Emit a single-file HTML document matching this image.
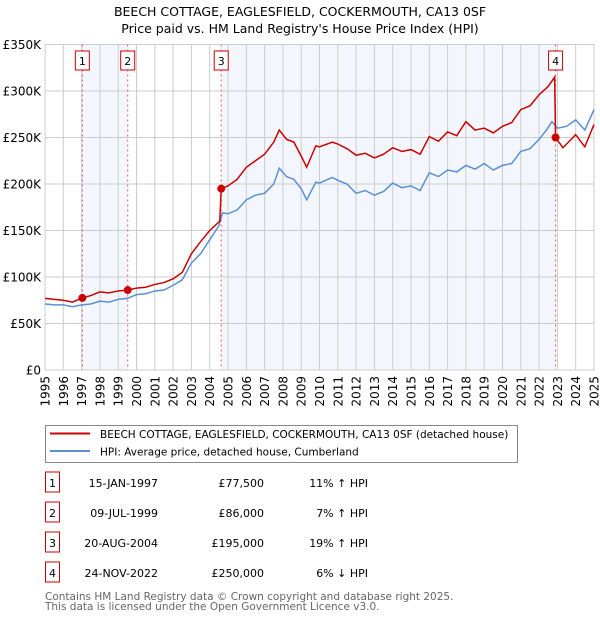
<!DOCTYPE html>
<html><head><meta charset="utf-8"><style>
body{margin:0;background:#fff;font-family:"DejaVu Sans","Liberation Sans",sans-serif;}
svg text{font-family:"DejaVu Sans","Liberation Sans",sans-serif;}
</style></head><body>
<svg id="chart" width="600" height="620" xmlns="http://www.w3.org/2000/svg">
<text x="300" y="16" text-anchor="middle" font-size="12.5" fill="#000">BEECH COTTAGE, EAGLESFIELD, COCKERMOUTH, CA13 0SF</text>
<text x="300" y="33" text-anchor="middle" font-size="12.5" fill="#000">Price paid vs. HM Land Registry's House Price Index (HPI)</text>
<g id="plot"></g>
<g>
<rect x="45.5" y="425.5" width="472" height="37" fill="#fff" stroke="#888"/>
<line x1="50" y1="433.5" x2="90" y2="433.5" stroke="#cc0000" stroke-width="2"/>
<text x="100" y="438" font-size="10.5">BEECH COTTAGE, EAGLESFIELD, COCKERMOUTH, CA13 0SF (detached house)</text>
<line x1="50" y1="451" x2="90" y2="451" stroke="#5b8fd4" stroke-width="2"/>
<text x="100" y="455.5" font-size="10.5">HPI: Average price, detached house, Cumberland</text>
</g>
<g id="table"></g>
<text x="45" y="600" font-size="10.5" fill="#666">Contains HM Land Registry data © Crown copyright and database right 2025.</text>
<text x="45" y="610" font-size="10.5" fill="#666">This data is licensed under the Open Government Licence v3.0.</text>
</svg>
<script>
const hpiYears=[1995,1995.5,1996,1996.5,1997,1997.5,1998,1998.5,1999,1999.5,2000,2000.5,2001,2001.5,2002,2002.5,2003,2003.5,2004,2004.5,2004.7,2005,2005.5,2006,2006.5,2007,2007.5,2007.8,2008.2,2008.6,2009,2009.3,2009.8,2010,2010.7,2011,2011.5,2012,2012.5,2013,2013.5,2014,2014.5,2015,2015.5,2016,2016.5,2017,2017.5,2018,2018.5,2019,2019.5,2020,2020.5,2021,2021.5,2022,2022.4,2022.7,2023,2023.5,2024,2024.5,2025];
const hpiValues=[71,70,70,68,70,71,74,73,76,77,81,82,85,86,91,97,115,125,140,155,169,168,172,183,188,190,200,217,208,205,195,183,202,201,207,204,200,190,193,188,192,201,196,198,193,212,208,215,213,220,216,222,215,220,222,235,238,248,258,267,260,262,269,258,280];
const redYears=[1995,1995.5,1996,1996.5,1997.04,1997.5,1998,1998.5,1999,1999.52,2000,2000.5,2001,2001.5,2002,2002.5,2003,2003.5,2004,2004.55,2004.63,2005,2005.5,2006,2006.5,2007,2007.5,2007.8,2008.2,2008.6,2009,2009.3,2009.8,2010,2010.7,2011,2011.5,2012,2012.5,2013,2013.5,2014,2014.5,2015,2015.5,2016,2016.5,2017,2017.5,2018,2018.5,2019,2019.5,2020,2020.5,2021,2021.5,2022,2022.5,2022.85,2022.9,2023.3,2024,2024.5,2025];
const redValues=[77,76,75,73,77.5,80,84,83,85,86,88,89,92,94,98,105,125,138,150,160,195,198,205,218,225,232,245,258,248,245,230,218,241,240,245,243,238,231,233,228,232,239,235,237,232,251,246,256,252,267,258,260,255,262,266,280,284,296,305,315,250,239,253,240,264];
const sales=[{n:"1",t:1997.04,v:77.5,date:"15-JAN-1997",price:"£77,500",hpi:"11% ↑ HPI"},{n:"2",t:1999.52,v:86,date:"09-JUL-1999",price:"£86,000",hpi:"7% ↑ HPI"},{n:"3",t:2004.63,v:195,date:"20-AUG-2004",price:"£195,000",hpi:"19% ↑ HPI"},{n:"4",t:2022.9,v:250,date:"24-NOV-2022",price:"£250,000",hpi:"6% ↓ HPI"}];
const yTicks=[0,50,100,150,200,250,300,350];
const yTickLabels=["£0","£50K","£100K","£150K","£200K","£250K","£300K","£350K"];
const NS="http://www.w3.org/2000/svg";
const L=45,R=594,T=44.5,B=370;
const x=t=>L+(t-1995)/30*(R-L);
const y=v=>B-v/350*(B-T);
const plot=document.getElementById('plot');
function mk(tag,attrs,parent){const e=document.createElementNS(NS,tag);for(const k in attrs)e.setAttribute(k,attrs[k]);(parent||plot).appendChild(e);return e;}
mk('rect',{x:L,y:T,width:R-L,height:B-T,fill:'#fff'});
let s1=mk('rect',{x:x(sales[0].t),y:T,width:x(sales[1].t)-x(sales[0].t),height:B-T,fill:'#eef3fc',opacity:0.7});

let s2=mk('rect',{x:x(sales[2].t),y:T,width:x(sales[3].t)-x(sales[2].t),height:B-T,fill:'#eef3fc',opacity:0.7});

for(let yr=1995;yr<=2025;yr++){
 mk('line',{x1:x(yr),x2:x(yr),y1:T,y2:B,stroke:'#cccccc','stroke-width':1});
 const tx=mk('text',{x:0,y:0,'font-size':12,'text-anchor':'end',transform:`translate(${x(yr)+4.5},${B+6}) rotate(-90)`});
 tx.textContent=yr;
 
 
}
yTicks.forEach((v,i)=>{
 mk('line',{x1:L,x2:R,y1:y(v),y2:y(v),stroke:'#cccccc','stroke-width':1});
 const tx=mk('text',{x:L-4,y:y(v)+4.5,'font-size':12,'text-anchor':'end'});
 tx.textContent=yTickLabels[i];
 
 
});
mk('rect',{x:L,y:T,width:R-L,height:B-T,fill:'none',stroke:'#cccccc'});
sales.forEach(s=>{
 const ln=mk('line',{x1:x(s.t),x2:x(s.t),y1:T,y2:B,stroke:'#ee5555','stroke-width':1,'stroke-dasharray':'2,3'});
 
 
});
const hp=mk('polyline',{points:hpiYears.map((t,i)=>x(t)+','+y(hpiValues[i])).join(' '),fill:'none',stroke:'#5b8fd4','stroke-width':1.5});


const rp=mk('polyline',{points:redYears.map((t,i)=>x(t)+','+y(redValues[i])).join(' '),fill:'none',stroke:'#cc0000','stroke-width':1.5});


sales.forEach(s=>{
 const c=mk('circle',{cx:x(s.t),cy:y(s.v),r:4,fill:'#cc0000'});
 
 
 const bx=x(s.t)-7;
 const g=mk('g',{});
 
 
 mk('rect',{x:bx,y:51,width:14,height:19,fill:'#fff',stroke:'#cc0000'},g);
 const t=mk('text',{x:x(s.t),y:65,'font-size':11,'text-anchor':'middle'},g);t.textContent=s.n;
});
const tb=document.getElementById('table');
sales.forEach((s,i)=>{
 const cy=483+i*30;
 const g=mk('g',{},tb);
 
 
 mk('rect',{x:45.5,y:cy-11,width:14,height:20,fill:'#fff',stroke:'#cc0000'},g);
 let t=mk('text',{x:52.5,y:cy+4,'font-size':11,'text-anchor':'middle'},g);t.textContent=s.n;
 t=mk('text',{x:158,y:cy+4,'font-size':11,'text-anchor':'end'},g);t.textContent=s.date;
 t=mk('text',{x:264,y:cy+4,'font-size':11,'text-anchor':'end'},g);t.textContent=s.price;
 t=mk('text',{x:368,y:cy+4,'font-size':11,'text-anchor':'end'},g);t.textContent=s.hpi;
});
</script>
</body></html>
